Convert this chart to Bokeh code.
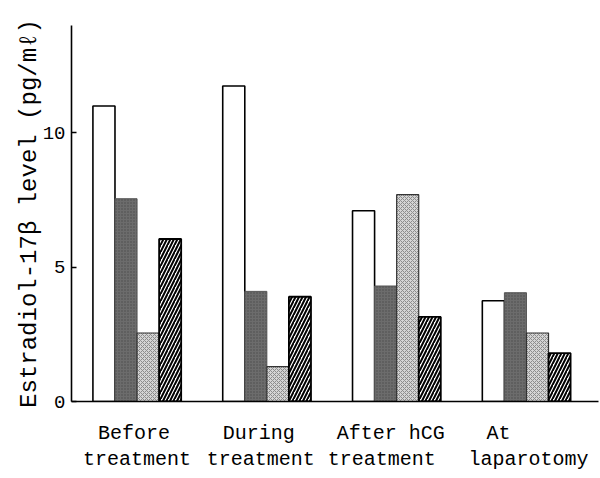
from bokeh.plotting import figure
from bokeh.models import ColumnDataSource, FixedTicker, LinearAxis, Range1d
from bokeh.transform import dodge
from bokeh.embed import file_html
from bokeh.resources import INLINE

# ---- data ----
groups = [1, 2, 3, 4]
label_line1 = ["Before", "During", "After hCG", "At"]
label_line2 = ["treatment", "treatment", "treatment", "laparotomy"]
case_white = [11.0, 11.75, 7.1, 3.75]
case_dark = [7.55, 4.1, 4.3, 4.05]
case_light = [2.55, 1.3, 7.7, 2.55]
case_hatched = [6.05, 3.9, 3.15, 1.8]
y_ticks = [0, 5, 10]

FONT = "Liberation Mono"

src = ColumnDataSource(dict(
    g=groups, white=case_white, dark=case_dark, light=case_light, hatched=case_hatched,
))

X0, X1 = 0.495, 4.555
p = figure(width=600, height=478, output_backend="svg", toolbar_location=None,
           x_range=Range1d(X0, X1), y_range=Range1d(0, 14.0))
p.min_border_left = 71
p.min_border_right = 2
p.min_border_top = 25
p.min_border_bottom = 77
p.outline_line_color = None
p.grid.visible = False
p.background_fill_color = "white"
p.border_fill_color = "white"

W = 0.17
p.vbar(x=dodge("g", -0.255, range=p.x_range), top="white", width=W, source=src,
       fill_color="white", line_color="black", line_width=1.6)
p.vbar(x=dodge("g", -0.085, range=p.x_range), top="dark", width=W, source=src,
       fill_color="#6c6c6c", line_color="#555555", line_width=1,
       hatch_pattern=".", hatch_color="#3c3c3c", hatch_scale=3, hatch_alpha=0.7)
p.vbar(x=dodge("g", 0.085, range=p.x_range), top="light", width=W, source=src,
       fill_color="#d4d4d4", line_color="#333333", line_width=1.2,
       hatch_pattern="x", hatch_color="#8c8c8c", hatch_scale=4, hatch_weight=1)
p.vbar(x=dodge("g", 0.255, range=p.x_range), top="hatched", width=W, source=src,
       fill_color="white", line_color="black", line_width=1.8,
       hatch_pattern="/", hatch_color="black", hatch_scale=7, hatch_weight=2)

# y axis
p.yaxis.ticker = FixedTicker(ticks=y_ticks)
p.yaxis.minor_tick_line_color = None
p.yaxis.major_tick_in = 5
p.yaxis.major_tick_out = 0
p.yaxis.axis_line_width = 1.6
p.yaxis.axis_line_color = "black"
p.yaxis.major_tick_line_width = 1.5
p.yaxis.major_label_text_font = FONT
p.yaxis.major_label_text_font_size = "19px"
p.yaxis.major_label_text_color = "black"
p.yaxis.major_label_standoff = 6
p.yaxis.axis_label = "Estradiol-17β level (pg/mℓ)"
p.yaxis.axis_label_text_font = FONT
p.yaxis.axis_label_text_font_size = "24px"
p.yaxis.axis_label_text_font_style = "normal"
p.yaxis.axis_label_text_color = "black"
p.yaxis.axis_label_standoff = -3

# x axis: two rows of category labels (small pixel nudges are styling only)
px_per_unit = (600 - 71 - 2) / (X1 - X0)
nudge1_px = [-3, -8, -6, -28]
nudge2_px = [0, -6, -15, 2]
ticks1 = [g + n / px_per_unit for g, n in zip(groups, nudge1_px)]
ticks2 = [g + n / px_per_unit for g, n in zip(groups, nudge2_px)]


def style_x(ax, ticks, labels, standoff, show_line):
    ax.ticker = FixedTicker(ticks=ticks)
    ax.major_label_overrides = {t: s for t, s in zip(ticks, labels)}
    ax.minor_tick_line_color = None
    ax.major_tick_line_color = None
    ax.major_tick_in = 0
    ax.major_tick_out = 0
    ax.major_label_standoff = standoff
    ax.major_label_text_font = FONT
    ax.major_label_text_font_size = "20px"
    ax.major_label_text_color = "black"
    ax.axis_line_width = 1.6
    ax.axis_line_color = "black" if show_line else None


style_x(p.xaxis[0], ticks1, label_line1, 20, True)
ax2 = LinearAxis()
p.add_layout(ax2, "below")
style_x(ax2, ticks2, label_line2, 0, False)

open("out.html", "w").write(file_html(p, INLINE))
